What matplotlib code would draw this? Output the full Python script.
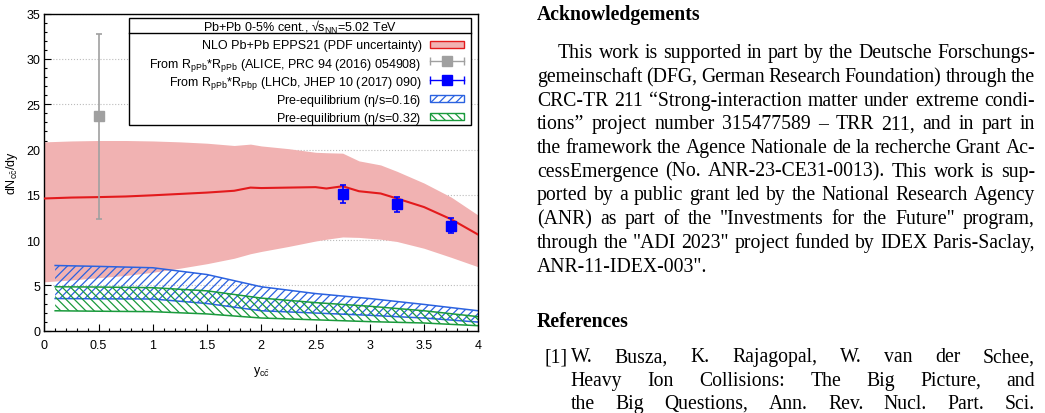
import numpy as np
import matplotlib
matplotlib.use('Agg')
import matplotlib.pyplot as plt
from matplotlib.patches import Rectangle
from matplotlib.ticker import MultipleLocator

plt.rcParams['font.family'] = ['Liberation Sans', 'DejaVu Sans']
plt.rcParams['mathtext.fontset'] = 'custom'
plt.rcParams['mathtext.rm'] = 'Liberation Sans'
plt.rcParams['mathtext.it'] = 'Liberation Sans:italic'
plt.rcParams['hatch.linewidth'] = 0.9

# NLO Pb+Pb EPPS21 band + central value
y_nlo = [0, 0.25, 0.5, 0.75, 1.0, 1.25, 1.5, 1.75, 1.9, 2.0, 2.25, 2.5, 2.6, 2.75, 2.9, 3.1, 3.25, 3.5, 3.75, 4.0]
nlo_up = [20.85, 20.95, 21.0, 21.0, 20.95, 20.85, 20.7, 20.45, 20.6, 20.4, 20.1, 19.7, 19.65, 19.6, 18.75, 18.3, 17.6, 16.3, 14.75, 12.75]
nlo_lo = [5.4, 5.6, 5.85, 6.1, 6.45, 6.9, 7.4, 8.0, 8.5, 8.75, 9.3, 9.9, 10.1, 10.35, 10.3, 10.1, 9.85, 9.1, 8.1, 7.05]
nlo_mid = [14.6, 14.7, 14.75, 14.82, 14.95, 15.1, 15.25, 15.45, 15.8, 15.75, 15.8, 15.85, 15.7, 15.95, 15.4, 15.15, 14.6, 13.65, 12.3, 10.6]

# ALICE based point
x_alice = [0.5]
v_alice = [23.75]
e_alice_lo = [11.4]
e_alice_hi = [9.05]

# LHCb based points
x_lhcb = [2.75, 3.25, 3.75]
v_lhcb = [15.05, 13.95, 11.6]
e_lhcb = [1.0, 0.85, 0.85]

# pre-equilibrium bands
y_pre = [0.1, 0.5, 1.0, 1.5, 2.0, 2.5, 3.0, 3.5, 4.0]
pre016_up = [7.2, 7.1, 6.95, 6.2, 4.85, 4.1, 3.55, 2.9, 2.2]
pre016_lo = [3.55, 3.52, 3.5, 3.0, 2.2, 1.95, 1.7, 1.4, 0.95]
pre032_up = [4.85, 4.82, 4.75, 4.4, 3.6, 3.1, 2.7, 2.2, 1.55]
pre032_lo = [2.2, 2.15, 2.1, 1.85, 1.4, 1.2, 1.0, 0.85, 0.55]

legend_title = r'Pb+Pb 0-5% cent., √s$_\mathregular{NN}$=5.02 TeV'
legend_labels = ['NLO Pb+Pb EPPS21 (PDF uncertainty)',
                 r'From R$_\mathregular{pPb}$*R$_\mathregular{pPb}$ (ALICE, PRC 94 (2016) 054908)',
                 r'From R$_\mathregular{pPb}$*R$_\mathregular{Pbp}$ (LHCb, JHEP 10 (2017) 090)',
                 r'Pre-equilibrium ($\mathregular{\eta}$/s=0.16)',
                 r'Pre-equilibrium ($\mathregular{\eta}$/s=0.32)']

W, H = 1045, 414
fig = plt.figure(figsize=(W / 100, H / 100), dpi=100)
ax = fig.add_axes([44.3 / W, 1 - 331.7 / H, 434 / W, 317 / H])

c_red = '#e31a1c'
c_pink = '#f1b2b2'
c_blue = '#2b62e0'
c_green = '#1a9a3c'
c_gray = '#a0a0a0'
c_lhcb = '#0000ff'

ax.fill_between(y_nlo, nlo_lo, nlo_up, color=c_pink, lw=0, zorder=1)
ax.plot(y_nlo, nlo_mid, color=c_red, lw=1.5, zorder=3)

ax.fill_between(y_pre, pre016_lo, pre016_up, facecolor='none', edgecolor=c_blue, hatch='////', lw=0, zorder=2)
ax.plot(y_pre, pre016_up, color=c_blue, lw=1.1, zorder=2)
ax.plot(y_pre, pre016_lo, color=c_blue, lw=1.1, zorder=2)
ax.fill_between(y_pre, pre032_lo, pre032_up, facecolor='none', edgecolor=c_green, hatch='\\\\\\\\', lw=0, zorder=2)
ax.plot(y_pre, pre032_up, color=c_green, lw=1.1, zorder=2)
ax.plot(y_pre, pre032_lo, color=c_green, lw=1.1, zorder=2)

ax.errorbar(x_alice, v_alice, yerr=[e_alice_lo, e_alice_hi], fmt='s', color=c_gray,
            ms=7.5, capsize=2, elinewidth=1.2, capthick=1.2, zorder=4)
ax.errorbar(x_lhcb, v_lhcb, yerr=e_lhcb, fmt='s', color=c_lhcb,
            ms=7.5, capsize=2, elinewidth=1.2, capthick=1.2, zorder=5)

ax.set_xlim(0, 4)
ax.set_ylim(0, 35)
ax.xaxis.set_minor_locator(MultipleLocator(0.1))
ax.yaxis.set_major_locator(MultipleLocator(5))
ax.yaxis.set_minor_locator(MultipleLocator(1))
ax.set_xticks(np.arange(0, 4.01, 0.5))
ax.set_xticklabels(['0', '0.5', '1', '1.5', '2', '2.5', '3', '3.5', '4'])
ax.tick_params(which='both', direction='in', labelsize=9, width=0.8)
ax.tick_params(axis='x', pad=6)
ax.tick_params(axis='y', pad=3)
ax.tick_params(which='major', length=5)
ax.tick_params(which='minor', length=2.5)
ax.grid(axis='y', which='major', ls=':', color='#bbbbbb', lw=0.8)
ax.set_axisbelow(True)
for s in ax.spines.values():
    s.set_linewidth(1.0)

ax.set_xlabel(r'y$_{\mathregular{c\bar{c}}}$', fontsize=9, labelpad=9)
ax.set_ylabel(r'dN$_{\mathregular{c\bar{c}}}$/dy', fontsize=9)
ax.yaxis.set_label_coords(-0.056, 0.5)


# legend box, drawn by hand (gnuplot style: text right aligned, key on the right)
def pa(px, py):
    # figure pixel -> axes fraction
    return (px - 44.3) / 434, (331.7 - py) / 317


tr = ax.transAxes
bx0, by1 = pa(129, 19)
bx1, by0 = pa(471, 126)
ax.add_patch(Rectangle((bx0, by0), bx1 - bx0, by1 - by0, transform=tr,
                       facecolor='white', edgecolor='black', lw=1.0, zorder=6))
sy = pa(0, 34.3)[1]
ax.plot([bx0, bx1], [sy, sy], transform=tr, color='black', lw=1.0, zorder=7)
ax.text((bx0 + bx1) / 2, pa(0, 31.5)[1], legend_title, transform=tr,
        ha='center', va='baseline', fontsize=9, zorder=7)

base_px = [49.3, 67.5, 85.7, 103.7, 121.7]
key_px = [45.7, 62.3, 80.5, 99.3, 117.3]
tx = pa(421.7, 0)[0]
kx0, kx1 = pa(430, 0)[0], pa(464, 0)[0]
kh = 6.7 / 317
for lab, b in zip(legend_labels, base_px):
    ax.text(tx, pa(0, b)[1], lab, transform=tr, ha='right', va='baseline', fontsize=9, zorder=7)

styles = [dict(facecolor=c_pink, edgecolor=c_red, lw=1.0),
          None, None,
          dict(facecolor='white', edgecolor=c_blue, hatch='////', lw=1.0),
          dict(facecolor='white', edgecolor=c_green, hatch='\\\\\\\\', lw=1.0)]
for st, k, col in zip(styles, key_px, [None, c_gray, c_lhcb, None, None]):
    ky = pa(0, k)[1]
    if st is not None:
        ax.add_patch(Rectangle((kx0, ky - kh / 2), kx1 - kx0, kh, transform=tr, zorder=7, **st))
    else:
        ax.plot([kx0, kx1], [ky, ky], transform=tr, color=col, lw=1.0,
                marker='|', ms=6, zorder=7, clip_on=False)
        ax.plot([(kx0 + kx1) / 2], [ky], transform=tr, color=col, marker='s',
                ms=7.5, ls='', zorder=8, clip_on=False)

fig.canvas.draw()
renderer = fig.canvas.get_renderer()

# text column on the right
serif = dict(family='Liberation Serif', fontsize=14.2)


def put_line(text, x0, x1, y, justify=True, **kw):
    if not justify:
        fig.text(x0 / W, 1 - y / H, text, va='baseline', **kw)
        return
    words = text.split(' ')
    ts = [fig.text(0, 0, w, va='baseline', **kw) for w in words]
    ws = [t.get_window_extent(renderer).width for t in ts]
    gap = (x1 - x0 - sum(ws)) / (len(words) - 1)
    x = x0
    for t, w in zip(ts, ws):
        t.set_position((x / W, 1 - y / H))
        x += w + gap


fig.text(537 / W, 1 - 20 / H, 'Acknowledgements', va='baseline', weight='bold', **serif)
ack = ['This work is supported in part by the Deutsche Forschungs-',
       'gemeinschaft (DFG, German Research Foundation) through the',
       'CRC-TR 211 \u201cStrong-interaction matter under extreme condi-',
       'tions\u201d project number 315477589 \u2013 TRR 211, and in part in',
       'the framework the Agence Nationale de la recherche Grant Ac-',
       'cessEmergence (No. ANR-23-CE31-0013). This work is sup-',
       'ported by a public grant led by the National Research Agency',
       '(ANR) as part of the "Investments for the Future" program,',
       'through the "ADI 2023" project funded by IDEX Paris-Saclay,',
       'ANR-11-IDEX-003".']
for i, line in enumerate(ack):
    x0 = 558 if i == 0 else 537
    put_line(line, x0, 1035, 58.3 + 23.7 * i, justify=(i < len(ack) - 1), **serif)

fig.text(537 / W, 1 - 327.5 / H, 'References', va='baseline', weight='bold', **serif)
fig.text(567.5 / W, 1 - 362.5 / H, '[1]', va='baseline', ha='right', **serif)
refs = ['W. Busza, K. Rajagopal, W. van der Schee,',
        'Heavy Ion Collisions: The Big Picture, and',
        'the Big Questions, Ann. Rev. Nucl. Part. Sci.']
for i, line in enumerate(refs):
    put_line(line, 570.5, 1035, 362.5 + 23.2 * i, **serif)

fig.savefig('out.png', dpi=100)
